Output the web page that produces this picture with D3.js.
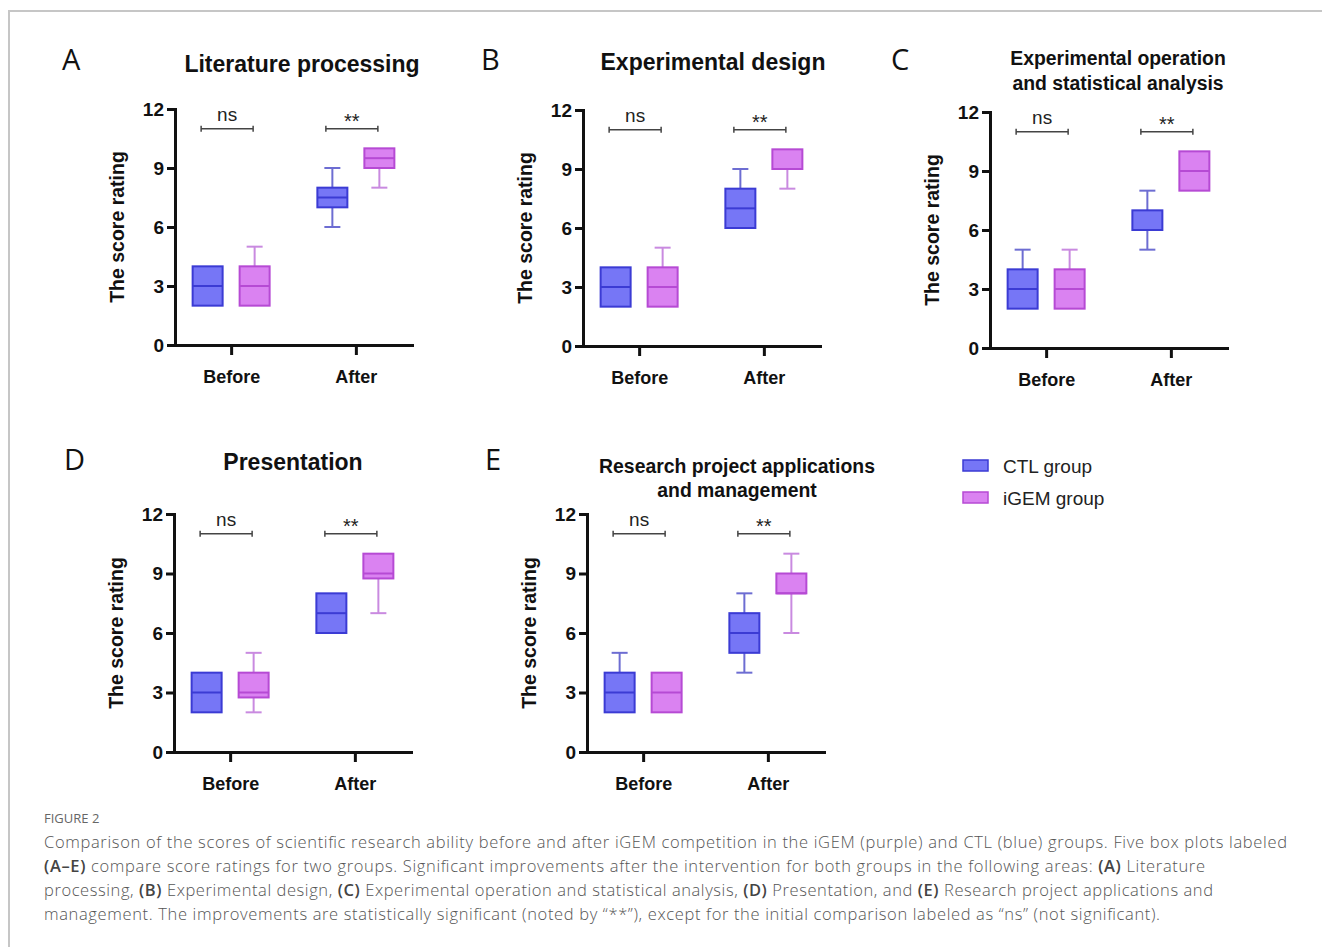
<html>
<head>
  <meta charset="UTF-8">
  <title>Figure 2</title>
  <script src="https://d3js.org/d3.v7.min.js"></script>
  <style>
    body { margin: 0; background: #fff; }
    .axis text { font-family: "Liberation Sans", Arial, sans-serif; font-weight: bold; font-size: 19px; fill: #111; }
    .axis path, .axis line { stroke: #111; stroke-width: 3px; }
  </style>
</head>
<body>
<svg id="fig" width="1322" height="947"></svg>
<script>

    // data
    const groups = ["CTL group", "iGEM group"];
    const phases = ["Before", "After"];
    const panelLetters = ["A", "B", "C", "D", "E"];
    const panelTitles = [
        ["Literature processing"],
        ["Experimental design"],
        ["Experimental operation", "and statistical analysis"],
        ["Presentation"],
        ["Research project applications", "and management"]
    ];
    const yTicks = [0, 3, 6, 9, 12];
    // [min, q1, median, q3, max] for each panel A..E
    const ctlBefore  = [[2, 2, 3, 4, 4], [2, 2, 3, 4, 4], [2, 2, 3, 4, 5], [2, 2, 3, 4, 4], [2, 2, 3, 4, 5]];
    const igemBefore = [[2, 2, 3, 4, 5], [2, 2, 3, 4, 5], [2, 2, 3, 4, 5], [2, 2.75, 3, 4, 5], [2, 2, 3, 4, 4]];
    const ctlAfter   = [[6, 7, 7.5, 8, 9], [6, 6, 7, 8, 9], [5, 6, 6, 7, 8], [6, 6, 7, 8, 8], [4, 5, 6, 7, 8]];
    const igemAfter  = [[8, 9, 9.5, 10, 10], [8, 9, 9, 10, 10], [8, 8, 9, 10, 10], [7, 8.75, 9, 10, 10], [6, 8, 8, 9, 10]];
    const sigLabels = ["ns", "**"];
    const sigLevel = 11;
    const figureLabel = "FIGURE 2";
    const captionLines = [
        [["Comparison of the scores of scientific research ability before and after iGEM competition in the iGEM (purple) and CTL (blue) groups. Five box plots labeled", false]],
        [["(A\u2013E)", true], [" compare score ratings for two groups. Significant improvements after the intervention for both groups in the following areas: ", false], ["(A)", true], [" Literature", false]],
        [["processing, ", false], ["(B)", true], [" Experimental design, ", false], ["(C)", true], [" Experimental operation and statistical analysis, ", false], ["(D)", true], [" Presentation, and ", false], ["(E)", true], [" Research project applications and", false]],
        [["management. The improvements are statistically significant (noted by \u201c**\u201d), except for the initial comparison labeled as \u201cns\u201d (not significant).", false]]
    ];

    // layout of the five panels
    const layout = [
        { ax: 175, top: 109, bottom: 345, lx: 62,  ly: 70,  tx: 302,  ty: [72] },
        { ax: 583, top: 110, bottom: 346, lx: 481, ly: 70,  tx: 713,  ty: [70] },
        { ax: 990, top: 112, bottom: 348, lx: 891, ly: 70,  tx: 1118, ty: [65, 90] },
        { ax: 174, top: 514, bottom: 752, lx: 64,  ly: 470, tx: 293,  ty: [470] },
        { ax: 587, top: 514, bottom: 752, lx: 485, ly: 470, tx: 737,  ty: [473, 497] }
    ];
    const plotWidth = 237;

    const fills   = { "CTL group": "#7676f6", "iGEM group": "#da82f1" };
    const strokes = { "CTL group": "#3b3bd4", "iGEM group": "#b64ad4" };
    const whisk   = { "CTL group": "#6d6dd2", "iGEM group": "#c98ae0" };

    const svg = d3.select("#fig");

    // frame
    svg.append("path")
        .attr("d", "M9,947V11H1322")
        .attr("fill", "none")
        .attr("stroke", "#c6c6c6")
        .attr("stroke-width", 2);

    const xScale = d3.scalePoint(phases, [0, plotWidth]).padding(0.45);
    const gScale = d3.scalePoint(groups, [-23.5, 23.5]);
    const boxW = 30, capW = 16;

    panelLetters.forEach((letter, i) => {
        const L = layout[i];
        const yScale = d3.scaleLinear([0, 12], [L.bottom - L.top, 0]);
        const g = svg.append("g").attr("transform", `translate(${L.ax},${L.top})`);

        // letter & title
        svg.append("text")
            .attr("x", L.lx).attr("y", L.ly)
            .style("font-family", "'Open Sans', sans-serif")
            .style("font-size", "29px")
            .style("fill", "#111")
            .text(letter);

        const titleSize = panelTitles[i].length > 1 ? 19.4 : 23;
        panelTitles[i].forEach((line, j) => {
            svg.append("text")
                .attr("x", L.tx).attr("y", L.ty[j])
                .attr("text-anchor", "middle")
                .style("font-family", "'Liberation Sans', Arial, sans-serif")
                .style("font-weight", "bold")
                .style("font-size", titleSize + "px")
                .style("fill", "#111")
                .text(line);
        });

        // axes
        g.append("g")
            .attr("class", "axis")
            .call(d3.axisLeft(yScale).tickValues(yTicks).tickSize(8).tickPadding(3).tickSizeOuter(0));

        g.append("g")
            .attr("class", "axis x")
            .attr("transform", `translate(0,${L.bottom - L.top})`)
            .call(d3.axisBottom(xScale).tickSize(10).tickPadding(15).tickSizeOuter(0));

        g.selectAll(".axis.x text").style("font-size", "18px");
        g.selectAll(".axis .domain").attr("stroke-linecap", "square");

        g.append("text")
            .attr("transform", `translate(-51,${(L.bottom - L.top) / 2}) rotate(-90)`)
            .attr("text-anchor", "middle")
            .style("font-family", "'Liberation Sans', Arial, sans-serif")
            .style("font-weight", "bold")
            .style("font-size", "19.5px")
            .style("fill", "#111")
            .text("The score rating");

        // boxes
        const boxes = [
            { phase: "Before", group: "CTL group",  s: ctlBefore[i] },
            { phase: "Before", group: "iGEM group", s: igemBefore[i] },
            { phase: "After",  group: "CTL group",  s: ctlAfter[i] },
            { phase: "After",  group: "iGEM group", s: igemAfter[i] }
        ];

        const bg = g.selectAll(".box").data(boxes).join("g")
            .attr("class", "box")
            .attr("transform", d => `translate(${xScale(d.phase) + gScale(d.group)},0)`);

        // whiskers
        bg.each(function (d) {
            const sel = d3.select(this);
            const segs = [[d.s[3], d.s[4]], [d.s[1], d.s[0]]].filter(p => p[0] !== p[1]);
            segs.forEach(p => {
                sel.append("line")
                    .attr("x1", 0).attr("x2", 0)
                    .attr("y1", yScale(p[0])).attr("y2", yScale(p[1]))
                    .attr("stroke", whisk[d.group]).attr("stroke-width", 2);
                sel.append("line")
                    .attr("x1", -capW / 2).attr("x2", capW / 2)
                    .attr("y1", yScale(p[1])).attr("y2", yScale(p[1]))
                    .attr("stroke", whisk[d.group]).attr("stroke-width", 2);
            });
        });

        bg.append("rect")
            .attr("x", -boxW / 2)
            .attr("width", boxW)
            .attr("y", d => yScale(d.s[3]))
            .attr("height", d => yScale(d.s[1]) - yScale(d.s[3]))
            .attr("fill", d => fills[d.group])
            .attr("stroke", d => strokes[d.group])
            .attr("stroke-width", 2);

        bg.append("line")
            .attr("x1", -boxW / 2).attr("x2", boxW / 2)
            .attr("y1", d => yScale(d.s[2])).attr("y2", d => yScale(d.s[2]))
            .attr("stroke", d => strokes[d.group])
            .attr("stroke-width", 2);

        // significance brackets
        phases.forEach((p, k) => {
            const cx = xScale(p) - 4;
            const yb = yScale(sigLevel);
            g.append("path")
                .attr("d", `M${cx - 26},${yb - 3}V${yb + 3}M${cx - 26},${yb}H${cx + 26}M${cx + 26},${yb - 3}V${yb + 3}`)
                .attr("fill", "none")
                .attr("stroke", "#444")
                .attr("stroke-width", 1.5);
            g.append("text")
                .attr("x", cx).attr("y", k === 0 ? yb - 8 : yb - 1)
                .attr("text-anchor", "middle")
                .style("font-family", "'Liberation Sans', Arial, sans-serif")
                .style("font-size", k === 0 ? "19px" : "20px")
                .style("fill", "#222")
                .text(sigLabels[k]);
        });
    });

    // legend
    const legend = svg.append("g").attr("transform", "translate(963,460)");
    groups.forEach((grp, k) => {
        legend.append("rect")
            .attr("x", 0).attr("y", k * 32)
            .attr("width", 25).attr("height", 11)
            .attr("fill", fills[grp])
            .attr("stroke", strokes[grp])
            .attr("stroke-width", 1.5);
        legend.append("text")
            .attr("x", 40).attr("y", k * 32 + 13)
            .style("font-family", "'Liberation Sans', Arial, sans-serif")
            .style("font-size", "19px")
            .style("fill", "#222")
            .text(grp);
    });

    // caption
    svg.append("text")
        .attr("x", 44).attr("y", 823)
        .style("font-family", "'Open Sans', sans-serif")
        .style("font-size", "13px")
        .style("fill", "#666")
        .text(figureLabel);

    const lineWidths = [1243, 1161, 1169, 1116];
    captionLines.forEach((segs, j) => {
        const t = svg.append("text")
            .attr("x", 44).attr("y", 848 + j * 24)
            .attr("textLength", lineWidths[j])
            .attr("lengthAdjust", "spacing")
            .style("font-family", "'Open Sans', sans-serif")
            .style("font-weight", 300)
            .style("font-size", "16.5px")
            .style("fill", "#555");
        segs.forEach(s => {
            t.append("tspan")
                .style("font-weight", s[1] ? 600 : 300)
                .style("fill", s[1] ? "#444" : "#555")
                .text(s[0]);
        });
    });

</script>
</body>
</html>
